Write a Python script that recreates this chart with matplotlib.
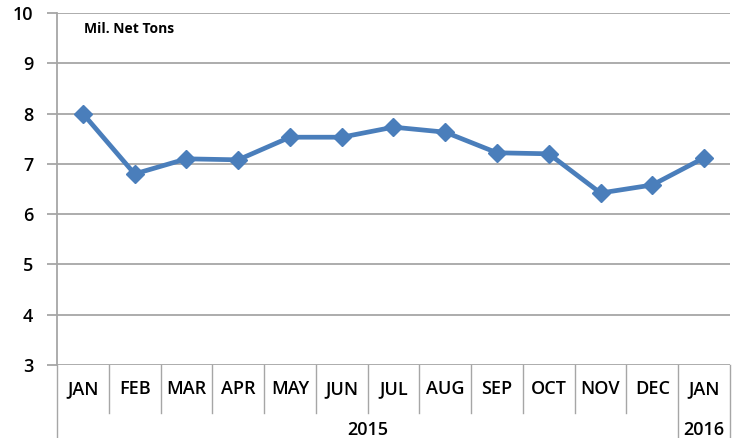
import matplotlib
matplotlib.use('Agg')
from matplotlib import pyplot as plt
from matplotlib.transforms import blended_transform_factory

months = ['JAN', 'FEB', 'MAR', 'APR', 'MAY', 'JUN', 'JUL',
          'AUG', 'SEP', 'OCT', 'NOV', 'DEC', 'JAN']
years = ['2015', '2016']
year_spans = [(0, 11), (12, 12)]
tons = [8.0, 6.80, 7.10, 7.08, 7.53, 7.53, 7.73, 7.63, 7.22, 7.20, 6.42, 6.58, 7.12]

plt.rcParams['font.family'] = ['Open Sans', 'DejaVu Sans']
GRID = '#a6a6a6'
BLUE = '#4a7ebb'

fig = plt.figure(figsize=(7.42, 4.38), dpi=100)
ax = fig.add_axes([0.0768, 0.1667, 0.907, 0.8036])

x = list(range(len(months)))
ax.plot(x, tons, color=BLUE, lw=3.4, marker='D', ms=9.5, mec=BLUE, mfc=BLUE, zorder=3)

ax.set_xlim(-0.5, len(months) - 0.5)
ax.set_ylim(3, 10)
ax.set_yticks(range(3, 11))
ax.yaxis.grid(True, color=GRID, lw=1.3)
ax.set_axisbelow(True)
for s in ['top', 'right', 'bottom']:
    ax.spines[s].set_visible(False)
ax.spines['left'].set_color(GRID)
ax.spines['left'].set_linewidth(1.3)
ax.tick_params(axis='y', length=7, width=1.3, color=GRID, pad=10)
for lab in ax.get_yticklabels():
    lab.set_fontsize(13)
    lab.set_fontweight('semibold')
ax.set_xticks([])

# two level category axis
tr = blended_transform_factory(ax.transData, ax.transAxes)
for i, m in enumerate(months):
    ax.text(i, -0.068, m, transform=tr, ha='center', va='center',
            fontsize=13, fontweight='semibold')
for i in range(len(months) + 1):
    b = i - 0.5
    low = -0.25 if b in (-0.5, 11.5, 12.5) else -0.135
    ax.plot([b, b], [0, low], transform=tr, color=GRID, lw=1.0, clip_on=False)
for name, (a, b) in zip(years, year_spans):
    ax.text((a + b) / 2, -0.2, name, transform=tr, ha='center', va='baseline',
            fontsize=13, fontweight='semibold')

ax.text(0.04, 0.955, 'Mil. Net Tons', transform=ax.transAxes, fontsize=10,
        fontweight='bold', ha='left', va='center')

fig.savefig('out.png', dpi=100)
